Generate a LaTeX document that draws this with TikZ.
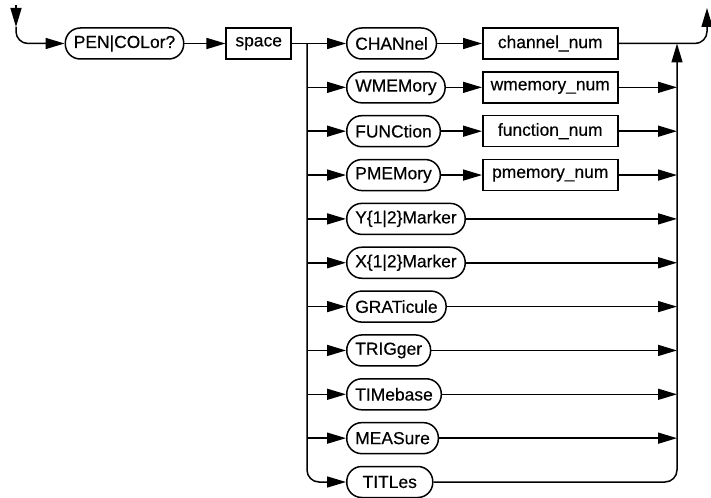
\documentclass[tikz,border=0pt]{standalone}
\usepackage{fontspec}
\setmainfont{Liberation Sans}[FakeBold=0.4]
\usetikzlibrary{positioning,arrows.meta}

\tikzset{
  kw/.style={draw,rounded corners=15bp,minimum height=31bp,inner xsep=8.5bp,inner ysep=0pt},
  arg/.style={draw,minimum height=31bp,minimum width=135bp,inner sep=0pt},
}

\begin{document}
\begin{tikzpicture}[x=1bp,y=-1bp,>={Triangle[length=19bp,width=11bp]},line width=1.5bp,font=\fontsize{17.5}{21}\selectfont]
    \useasboundingbox (0,0) rectangle (711,498);
    % entry, command word and separator
    \coordinate (entry) at (16,5);
    \coordinate (entrymid) at (16,27);
    \node[kw] (pen) at (124.5,43.5) {PEN|COLor?};
    \node[arg,minimum width=65bp,right=41bp of pen] (space) {space};
    \coordinate (split) at (307,43.5);
    \coordinate (join) at (677,43.5);
    \coordinate (exit) at (707,8);
    % keywords
    \node[kw,anchor=west] (chan) at (346,43.5) {CHANnel};
    \node[kw,anchor=west] (wmem) at (346,87.35) {WMEMory};
    \node[kw,anchor=west] (func) at (346,131.2) {FUNCtion};
    \node[kw,anchor=west] (pmem) at (346,175.05) {PMEMory};
    \node[kw,anchor=west] (ymark) at (346,218.9) {Y\{1|2\}Marker};
    \node[kw,anchor=west] (xmark) at (346,262.75) {X\{1|2\}Marker};
    \node[kw,anchor=west] (grat) at (346,306.6) {GRATicule};
    \node[kw,anchor=west] (trig) at (346,350.45) {TRIGger};
    \node[kw,anchor=west] (timb) at (346,394.3) {TIMebase};
    \node[kw,anchor=west] (meas) at (346,438.15) {MEASure};
    \node[kw,anchor=west,minimum width=86bp] (titl) at (346,482) {TITLes};
    % arguments
    \node[arg,anchor=west] (chann) at (482,43.5) {channel\_num};
    \node[arg,anchor=west] (wmemn) at (482,87.35) {wmemory\_num};
    \node[arg,anchor=west] (funcn) at (482,131.2) {function\_num};
    \node[arg,anchor=west] (pmemn) at (482,175.05) {pmemory\_num};

    \draw[->] (entry) -- (entrymid);
    \draw[->,rounded corners=12bp] (entrymid) |- (pen);
    \draw[->] (pen) -- (space);
    \draw[->] (space) -- (chan);
    \draw[->,rounded corners=12bp] (split) |- (titl);
    \draw[->] (split |- wmem) -- (wmem);
    \draw[->] (split |- func) -- (func);
    \draw[->] (split |- pmem) -- (pmem);
    \draw[->] (split |- ymark) -- (ymark);
    \draw[->] (split |- xmark) -- (xmark);
    \draw[->] (split |- grat) -- (grat);
    \draw[->] (split |- trig) -- (trig);
    \draw[->] (split |- timb) -- (timb);
    \draw[->] (split |- meas) -- (meas);

    \draw[->] (chan) -- (chann);
    \draw[->] (wmem) -- (wmemn);
    \draw[->] (func) -- (funcn);
    \draw[->] (pmem) -- (pmemn);

    \draw[->] (wmemn) -- (join |- wmemn);
    \draw[->] (funcn) -- (join |- funcn);
    \draw[->] (pmemn) -- (join |- pmemn);
    \draw[->] (ymark) -- (join |- ymark);
    \draw[->] (xmark) -- (join |- xmark);
    \draw[->] (grat) -- (join |- grat);
    \draw[->] (trig) -- (join |- trig);
    \draw[->] (timb) -- (join |- timb);
    \draw[->] (meas) -- (join |- meas);
    \draw[->,rounded corners=12bp] (titl) -| (join);
    \draw[->,rounded corners=12bp] (chann) -| (exit);
\end{tikzpicture}
\end{document}
